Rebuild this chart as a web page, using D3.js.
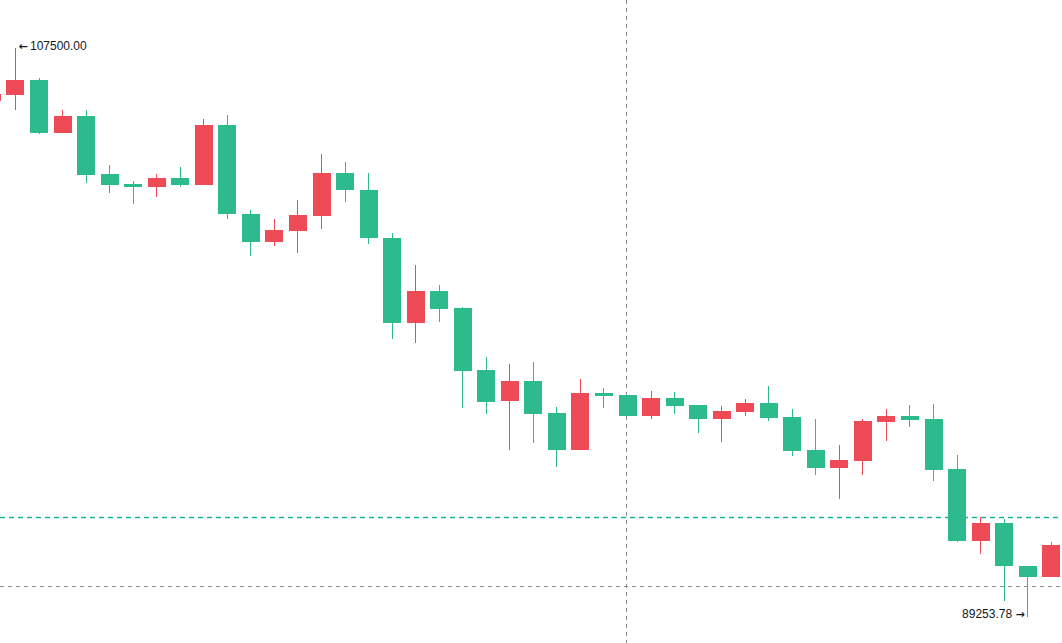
<!DOCTYPE html>
<html><head><meta charset="utf-8">
<script src="https://cdn.jsdelivr.net/npm/d3@7"></script>
<style>html,body{margin:0;padding:0;background:#fff;overflow:hidden}svg{display:block}</style>
</head><body>
<svg id="chart" width="1062" height="643"></svg>
<script>
const idx = d3.range(46);
const open  = [105809,106002,106473,104783,105318,103457,103137,103050,103329,103114,105030,102174,101285,101638,102120,103489,102944,101420,98686,99703,99158,97169,96184,96816,95789,94612,96431,96376,95703,96271,96046,95606,95831,96110,95661,94602,94034,94259,95510,95703,95597,93993,91692,92260,90880,90537];
const high  = [106100,107500,106547,105511,105511,103746,103233,103457,103672,105212,105350,102302,102014,102623,104099,103833,103489,101555,100538,99886,99200,97586,97352,97426,95982,96870,96591,96380,96495,96453,96050,96014,96229,96665,95918,95587,94763,95587,95908,96046,96068,94442,92443,92388,90880,91650];
const low   = [105700,105511,104750,104780,103178,102857,102495,102710,103031,103100,102004,100836,101157,100932,101683,102569,101211,98173,98025,98719,95959,95748,94602,94836,94057,94593,95950,95700,95597,95757,95157,94868,95683,95523,94410,93810,93040,93810,94881,95350,93617,91641,91256,89748,89253.78,90537];
const close = [106024,106473,104783,105318,103435,103114,103050,103329,103114,105030,102164,101285,101661,102142,103489,102934,101394,98686,99703,99136,97146,96152,96816,95767,94612,96431,96344,95703,96271,96024,95606,95853,96110,95638,94570,94034,94281,95533,95703,95574,93961,91692,92260,90871,90537,91554];
const highLabel = "107500.00";
const lowLabel = "89253.78";
const highIndex = 1, lowIndex = 44;
const crossIndex = 27;
const greenLineValue = 92443;
const greyLineValue = 90239;

const W = 1062, H = 643;
const UP = "#ef4b56", DOWN = "#2dbb8d";
const svg = d3.select("#chart");
const x = d3.scaleLinear().domain([0, 45]).range([-8.54, 1050.7]);
const y = d3.scaleLinear().domain([89253.78, 107500]).range([616.7, 48]);
const bodyW = 18;

const data = idx.map(i => ({i, o: open[i], h: high[i], l: low[i], c: close[i]}));
const col = d => d.c >= d.o ? UP : DOWN;

// dashed lines
svg.append("line").attr("x1", 0).attr("x2", W)
  .attr("y1", Math.round(y(greenLineValue)) + 0.5).attr("y2", Math.round(y(greenLineValue)) + 0.5)
  .attr("stroke", "#12b896").attr("stroke-dasharray", "5,4").attr("stroke-width", 1.4);
const lines = svg.append("g").attr("shape-rendering", "crispEdges");
lines.append("line").attr("x1", 0).attr("x2", W)
  .attr("y1", Math.round(y(greyLineValue)) + 0.5).attr("y2", Math.round(y(greyLineValue)) + 0.5)
  .attr("stroke", "#8a8d96").attr("stroke-dasharray", "4,4").attr("stroke-width", 1);
lines.append("line").attr("y1", 0).attr("y2", H)
  .attr("x1", Math.round(x(crossIndex)) - 0.5).attr("x2", Math.round(x(crossIndex)) - 0.5)
  .attr("stroke", "#8a8d96").attr("stroke-dasharray", "4,4").attr("stroke-width", 1);

const g = svg.append("g").attr("shape-rendering", "crispEdges");
g.selectAll("line.wick").data(data).join("line").attr("class", "wick")
  .attr("x1", d => Math.round(x(d.i)) + 0.5).attr("x2", d => Math.round(x(d.i)) + 0.5)
  .attr("y1", d => y(d.h)).attr("y2", d => y(d.l))
  .attr("stroke", col).attr("stroke-width", 1);
g.selectAll("rect.body").data(data).join("rect").attr("class", "body")
  .attr("x", d => Math.round(x(d.i) - bodyW / 2 + 0.5))
  .attr("width", bodyW)
  .attr("y", d => y(Math.max(d.o, d.c)))
  .attr("height", d => Math.max(1, Math.abs(y(d.o) - y(d.c))))
  .attr("fill", col);

// labels
const font = "Liberation Sans, Arial, sans-serif";
const hx = x(highIndex), hy = y(high[highIndex]) - 1;
svg.append("text").attr("x", hx + 3.5).attr("y", hy)
  .attr("dominant-baseline", "middle").attr("font-family", "DejaVu Sans")
  .attr("font-size", 11).attr("font-weight", "bold").attr("fill", "#131722").text("\u2190");
svg.append("text").attr("x", hx + 15).attr("y", hy)
  .attr("dominant-baseline", "middle").attr("font-family", font).attr("font-size", 12)
  .attr("fill", "#131722").text(highLabel);
const lx = x(lowIndex), ly = y(low[lowIndex]) - 2;
svg.append("text").attr("x", lx - 2.5).attr("y", ly)
  .attr("dominant-baseline", "middle").attr("text-anchor", "end").attr("font-family", "DejaVu Sans")
  .attr("font-size", 11).attr("font-weight", "bold").attr("fill", "#131722").text("\u2192");
svg.append("text").attr("x", lx - 15).attr("y", ly)
  .attr("dominant-baseline", "middle").attr("text-anchor", "end").attr("font-family", font).attr("font-size", 12)
  .attr("fill", "#131722").text(lowLabel);
</script>
</body></html>
